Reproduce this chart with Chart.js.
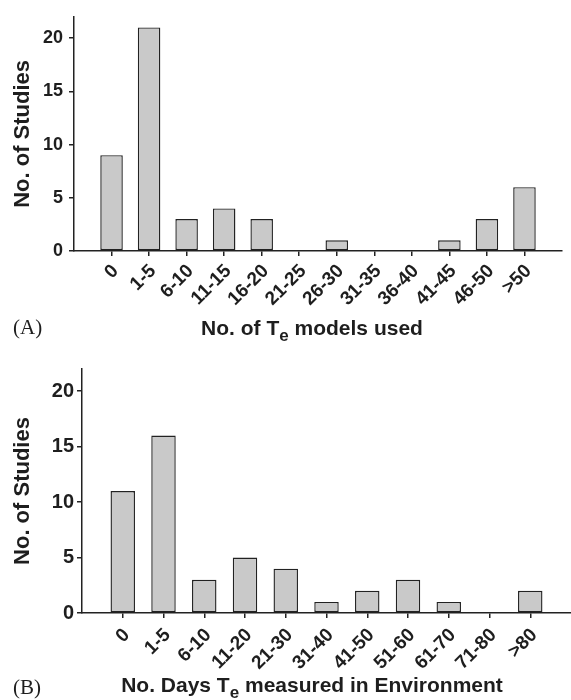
<!DOCTYPE html>
<html>
<head>
<meta charset="utf-8">
<script src="https://cdn.jsdelivr.net/npm/chart.js@4/dist/chart.umd.min.js"></script>
<style>
  body { margin: 0; background: #fff; }
  .panel { width: 571px; height: 350px; }
</style>
</head>
<body>
<div class="panel"><canvas id="chartA" width="571" height="350"></canvas></div>
<div class="panel"><canvas id="chartB" width="571" height="350"></canvas></div>
<script>
// Panel A: number of Te models used per study
const labelsA = ['0', '1-5', '6-10', '11-15', '16-20', '21-25', '26-30', '31-35', '36-40', '41-45', '46-50', '>50'];
const studiesA = [9, 21, 3, 4, 3, 0, 1, 0, 0, 1, 3, 6];

// Panel B: number of days Te measured in environment
const labelsB = ['0', '1-5', '6-10', '11-20', '21-30', '31-40', '41-50', '51-60', '61-70', '71-80', '>80'];
const studiesB = [11, 16, 3, 5, 4, 1, 2, 3, 1, 0, 2];

const yMax = 22;
const yStep = 5;

Chart.defaults.font.family = '"Liberation Sans", Arial, sans-serif';
Chart.defaults.color = '#1e1e1e';

const ink = '#222';

// x-axis title with a subscript "e" plus the panel letter
const titlePlugin = {
    id: 'panelText',
    afterDraw(chart, args, opts) {
        const ctx = chart.ctx;
        ctx.save();
        ctx.fillStyle = '#1e1e1e';
        ctx.textBaseline = 'alphabetic';
        const big = 'bold 21px "Liberation Sans", Arial, sans-serif';
        const small = 'bold 17px "Liberation Sans", Arial, sans-serif';
        const runs = opts.runs;
        let total = 0;
        runs.forEach(r => {
            ctx.font = r.sub ? small : big;
            r.w = ctx.measureText(r.text).width;
            total += r.w;
        });
        let x = opts.cx - total / 2;
        ctx.textAlign = 'left';
        runs.forEach(r => {
            ctx.font = r.sub ? small : big;
            ctx.fillText(r.text, x, opts.baseline + (r.sub ? 6 : 0));
            x += r.w;
        });
        ctx.font = '21px "Liberation Serif", "Times New Roman", serif';
        ctx.fillText(opts.letter, 13, opts.letterBaseline);
        ctx.restore();
    }
};

const makeChart = (id, labels, values, s) => {
    const ctx = document.getElementById(id).getContext('2d');
    return new Chart(ctx, {
        type: 'bar',
        data: {
            datasets: [{
                data: values.map((v, i) => ({ x: i, y: v })),
                backgroundColor: '#c9c9c9',
                borderColor: ink,
                borderWidth: 1.4,
                borderSkipped: false,
                categoryPercentage: 1,
                barPercentage: 0.6
            }]
        },
        options: {
            responsive: false,
            animation: false,
            layout: { padding: { top: s.top, right: s.right, left: 0, bottom: 0 } },
            plugins: {
                legend: { display: false },
                tooltip: { enabled: false },
                panelText: s.text
            },
            scales: {
                x: {
                    type: 'linear',
                    offset: false,
                    min: -1,
                    max: labels.length,
                    afterBuildTicks: (scale) => {
                        scale.ticks = scale.ticks.filter(t => t.value >= 0 && t.value < labels.length);
                    },
                    afterFit: (scale) => { scale.height = s.xHeight; },
                    ticks: {
                        stepSize: 1,
                        autoSkip: false,
                        minRotation: 45,
                        maxRotation: 45,
                        padding: s.xPad,
                        labelOffset: 4,
                        font: { size: s.xFont, weight: 'bold' },
                        callback: (v) => labels[v]
                    },
                    grid: { display: true, offset: false, drawOnChartArea: false, drawTicks: true, tickLength: 5, color: ink, lineWidth: 1.5 },
                    border: { display: true, color: ink, width: 1.5 }
                },
                y: {
                    min: 0,
                    max: yMax,
                    afterBuildTicks: (scale) => {
                        scale.ticks = scale.ticks.filter(t => t.value % yStep === 0);
                    },
                    afterFit: (scale) => { scale.width = s.yWidth; },
                    ticks: {
                        stepSize: yStep,
                        padding: s.yPad,
                        font: { size: s.yFont, weight: 'bold' }
                    },
                    title: {
                        display: true,
                        text: 'No. of Studies',
                        font: { size: 22, weight: 'bold' },
                        padding: { top: 10, bottom: 0 }
                    },
                    grid: { display: true, drawOnChartArea: false, drawTicks: true, tickLength: 5, color: ink, lineWidth: 1.5 },
                    border: { display: true, color: ink, width: 1.5 }
                }
            }
        },
        plugins: [titlePlugin]
    });
};

makeChart('chartA', labelsA, studiesA, {
    top: 7, right: 9, xHeight: 99, yWidth: 74, yPad: 6, yFont: 18, xFont: 19, xPad: 4,
    text: {
        runs: [{ text: 'No. of T' }, { text: 'e', sub: true }, { text: ' models used' }],
        cx: 312, baseline: 335, letter: '(A)', letterBaseline: 334
    }
});

makeChart('chartB', labelsB, studiesB, {
    top: 19, right: 0, xHeight: 87, yWidth: 82, yPad: 3, yFont: 20, xFont: 19, xPad: 6,
    text: {
        runs: [{ text: 'No. Days T' }, { text: 'e', sub: true }, { text: ' measured in Environment' }],
        cx: 312, baseline: 342, letter: '(B)', letterBaseline: 344
    }
});
</script>
</body>
</html>
